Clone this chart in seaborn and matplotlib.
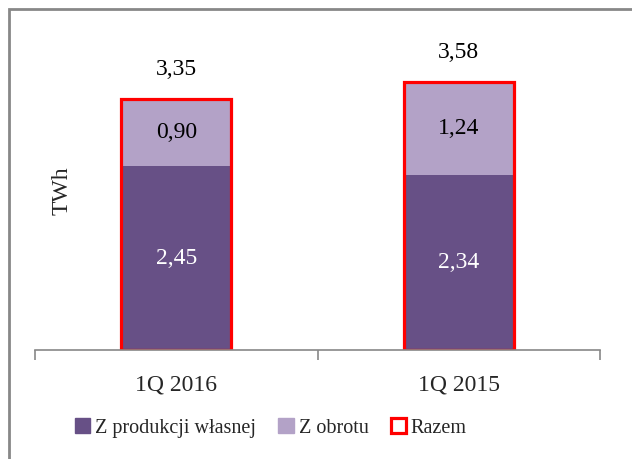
import pandas as pd
import numpy as np
import seaborn as sns
import matplotlib.pyplot as plt
from matplotlib.patches import Patch, Rectangle

categories = ["1Q 2016", "1Q 2015"]
own_production = [2.45, 2.34]
trading = [0.90, 1.24]
total = [3.35, 3.58]

dark = "#675086"
light = "#b3a2c7"
red = "#ff0000"

sns.set_style("white")
plt.rcParams['font.family'] = ['Liberation Serif', 'DejaVu Serif']

df = pd.DataFrame({"cat": categories, "prod": own_production,
                   "trade": trading, "total": total})

fig = plt.figure(figsize=(6.32, 4.59), dpi=100)
ax = fig.add_axes([35 / 632, 109 / 459, 565 / 632, 300 / 459])

# stacked: total first (light), production over it, then red outline
sns.barplot(data=df, x="cat", y="total", color=light, saturation=1, width=0.39,
            linewidth=0, ax=ax)
sns.barplot(data=df, x="cat", y="prod", color=dark, saturation=1, width=0.39,
            linewidth=0, ax=ax)
sns.barplot(data=df, x="cat", y="total", fill=False, edgecolor=red, linewidth=2.3,
            width=0.39, ax=ax)

fs = 17
for i in range(len(categories)):
    ax.text(i, own_production[i] / 2, f"{own_production[i]:.2f}".replace(".", ","),
            ha="center", va="center", color="white", fontsize=fs)
    ax.text(i, own_production[i] + trading[i] / 2, f"{trading[i]:.2f}".replace(".", ","),
            ha="center", va="center", color="black", fontsize=fs)
    ax.text(i, total[i] + 0.39, f"{total[i]:.2f}".replace(".", ","),
            ha="center", va="center", color="black", fontsize=fs)

ax.set_xlim(-0.5, 1.5)
ax.set_ylim(0, 4.0)
ax.set_yticks([])
ax.set_xlabel("")
ax.set_ylabel("TWh", fontsize=fs)
ax.yaxis.set_label_coords(38 / 565, 0.53)
for s in ["top", "right", "left"]:
    ax.spines[s].set_visible(False)
ax.spines["bottom"].set_color("#888888")
ax.spines["bottom"].set_linewidth(1.2)
ax.set_xticks([-0.5, 0.5, 1.5])
ax.set_xticklabels(["", "", ""])
ax.tick_params(axis="x", length=7, color="#888888", width=1.2, bottom=True, direction="out")
for i, c in enumerate(categories):
    ax.text(i, -0.46, c, ha="center", va="center", fontsize=fs)

handles = [Patch(facecolor=dark, edgecolor=dark),
           Patch(facecolor=light, edgecolor=light),
           Patch(facecolor="white", edgecolor=red, linewidth=2.3)]
fig.legend(handles, ["Z produkcji własnej", "Z obrotu", "Razem"], loc="center",
           bbox_to_anchor=(271 / 632, 1 - 428 / 459), ncol=3, frameon=False, fontsize=14.5,
           handlelength=0.75, handleheight=0.75, handletextpad=0.25, columnspacing=1.1)

# outer chart frame
fig.patches.append(Rectangle((8.5 / 632, -0.1), 1.2, 1 - 9.5 / 459 + 0.1,
                             transform=fig.transFigure, fill=False,
                             edgecolor="#888888", linewidth=2))

fig.savefig("out.png", dpi=100)
